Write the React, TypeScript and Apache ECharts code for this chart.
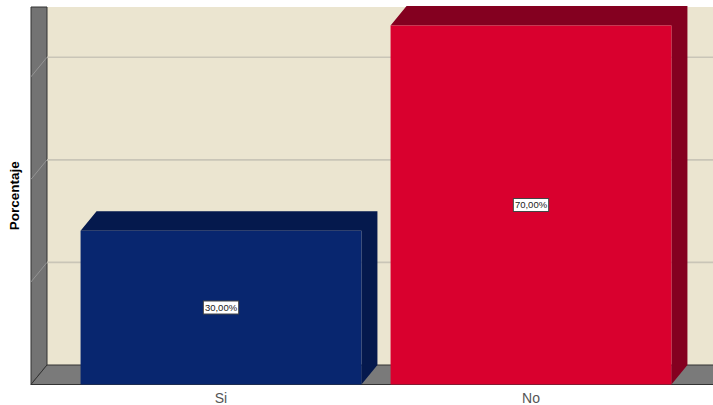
import React, { useEffect, useRef } from "react";
import * as echarts from "echarts";

const categories = ["Si", "No"];
const percentages = [30, 70];
const percentLabels = ["30,00%", "70,00%"];
const gridValues = [20, 40, 60];

const frontColors = ["#08266f", "#d9002e"];
const topColors = ["#05194d", "#840020"];

const W = 713;
const H = 405;
const wallLeft = 31;
const floorFront = 384.5;
const plotTop = 7;
const dx = 16;
const dy = 19.5;

export default function App() {
  const ref = useRef<HTMLDivElement>(null);

  useEffect(() => {
    document.body.style.margin = "0";
    const chart = echarts.init(ref.current!, undefined, { renderer: "svg" });
    const backX = wallLeft + dx;
    const backFloor = floorFront - dy;

    chart.setOption({
      animation: false,
      backgroundColor: "#ffffff",
      grid: {
        left: 66,
        right: 27,
        top: plotTop,
        bottom: H - floorFront,
        outerBoundsMode: "none",
      },
      xAxis: {
        type: "category",
        data: categories,
        axisLine: { show: false },
        axisTick: { show: false },
        axisLabel: {
          color: "#555555",
          fontFamily: "Liberation Sans",
          fontSize: 14,
          margin: 6,
        },
      },
      yAxis: {
        type: "value",
        min: 0,
        max: 73.6,
        interval: 20,
        name: "Porcentaje",
        nameLocation: "middle",
        nameGap: 45,
        nameTextStyle: {
          color: "#000000",
          fontFamily: "Liberation Sans",
          fontWeight: "bold",
          fontSize: 13.5,
        },
        axisLine: { show: false },
        axisTick: { show: false },
        axisLabel: { show: false },
        splitLine: { show: false },
      },
      graphic: {
        elements: [
          {
            type: "rect",
            z: 0,
            shape: { x: backX, y: plotTop, width: W - backX, height: backFloor - plotTop },
            style: { fill: "#ebe5d0" },
          },
          {
            type: "polygon",
            z: 0,
            shape: {
              points: [
                [wallLeft, plotTop],
                [backX, plotTop],
                [backX, backFloor],
                [wallLeft, floorFront],
              ],
            },
            style: { fill: "#737373", stroke: "#333333", lineWidth: 1 },
          },
          {
            type: "polygon",
            z: 0,
            shape: {
              points: [
                [wallLeft, floorFront],
                [backX, backFloor],
                [W + 2, backFloor],
                [W + 2, floorFront],
              ],
            },
            style: { fill: "#7a7a7a", stroke: "#333333", lineWidth: 1 },
          },
        ],
      },
      series: [
        {
          type: "custom",
          z: 1,
          silent: true,
          data: gridValues.map((v) => [0, v]),
          renderItem: (_p: any, api: any) => {
            const y = api.coord([0, api.value(1)])[1];
            return {
              type: "group",
              children: [
                {
                  type: "line",
                  shape: { x1: backX, y1: y - dy, x2: W, y2: y - dy },
                  style: { stroke: "#c9c5b7", lineWidth: 1.6 },
                },
                {
                  type: "line",
                  shape: { x1: wallLeft, y1: y, x2: backX, y2: y - dy },
                  style: { stroke: "#949494", lineWidth: 1 },
                },
              ],
            };
          },
        },
        {
          type: "custom",
          z: 3,
          silent: true,
          data: percentages.map((v, i) => [i, v]),
          renderItem: (_p: any, api: any) => {
            const i = api.value(0);
            const val = api.value(1);
            const [cx, top] = api.coord([i, val]);
            const bottom = api.coord([i, 0])[1];
            const half = (api.size([1, 0])[0] * 0.906) / 2;
            const x1 = cx - half;
            const x2 = cx + half;
            return {
              type: "group",
              children: [
                {
                  type: "polygon",
                  shape: {
                    points: [
                      [x1, top],
                      [x1 + dx, top - dy],
                      [x2 + dx, top - dy],
                      [x2 + dx, bottom - dy],
                      [x2, bottom],
                      [x2, top],
                    ],
                  },
                  style: { fill: topColors[i] },
                },
                {
                  type: "rect",
                  shape: { x: x1, y: top, width: x2 - x1, height: bottom - top },
                  style: { fill: frontColors[i] },
                },
                {
                  type: "text",
                  x: cx,
                  y: (top + bottom) / 2,
                  style: {
                    text: percentLabels[i],
                    align: "center",
                    verticalAlign: "middle",
                    fill: "#222222",
                    fontFamily: "Liberation Sans",
                    fontSize: 9.5,
                    backgroundColor: "#ffffff",
                    borderColor: "#444444",
                    borderWidth: 1,
                    padding: [1, 1, 1, 1],
                  },
                },
              ],
            };
          },
        },
      ],
    });
    return () => chart.dispose();
  }, []);

  return <div ref={ref} style={{ width: W, height: H }} />;
}
